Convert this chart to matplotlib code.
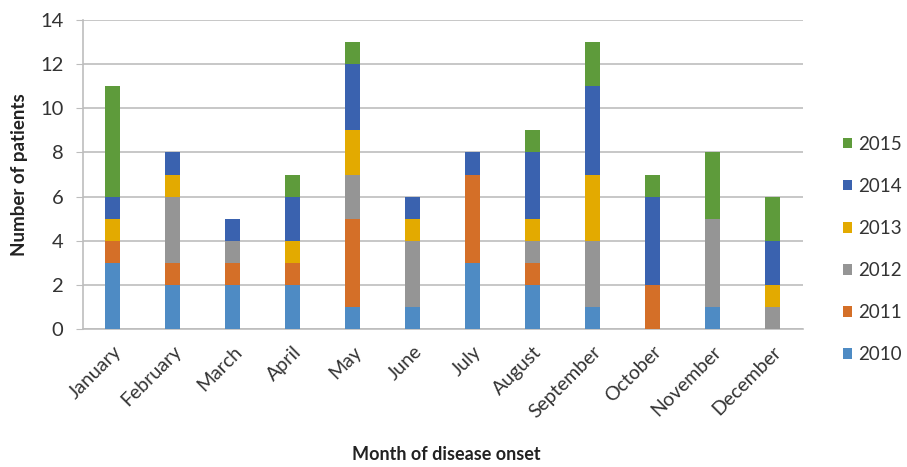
import matplotlib
matplotlib.use("Agg")
import matplotlib.pyplot as plt
from matplotlib.patches import Patch
import numpy as np

plt.rcParams['font.family'] = ['Lato', 'DejaVu Sans']

months = ["January", "February", "March", "April", "May", "June", "July",
          "August", "September", "October", "November", "December"]
years = ["2010", "2011", "2012", "2013", "2014", "2015"]

cases_2010 = [3, 2, 2, 2, 1, 1, 3, 2, 1, 0, 1, 0]
cases_2011 = [1, 1, 1, 1, 4, 0, 4, 1, 0, 2, 0, 0]
cases_2012 = [0, 3, 1, 0, 2, 3, 0, 1, 3, 0, 4, 1]
cases_2013 = [1, 1, 0, 1, 2, 1, 0, 1, 3, 0, 0, 1]
cases_2014 = [1, 1, 1, 2, 3, 1, 1, 3, 4, 4, 0, 2]
cases_2015 = [5, 0, 0, 1, 1, 0, 0, 1, 2, 1, 3, 2]

series = [cases_2010, cases_2011, cases_2012, cases_2013, cases_2014, cases_2015]
colors = ["#4E8BC4", "#D46F28", "#959595", "#E3AA00", "#3A62AF", "#5E9B3B"]

fig = plt.figure(figsize=(9.07, 4.67), dpi=100)
ax = fig.add_axes([0.0915, 0.2955, 0.7935, 0.6615])

x = np.arange(len(months))
bottom = np.zeros(len(months))
for vals, col in zip(series, colors):
    ax.bar(x, vals, bottom=bottom, width=0.25, color=col, zorder=3)
    bottom += np.array(vals)

ax.set_xlim(-0.5, len(months) - 0.5)
ax.set_ylim(0, 14)
ax.set_yticks(range(0, 15, 2))
ax.yaxis.grid(True, color="#BDBDBD", linewidth=1.2, zorder=0)
ax.set_axisbelow(True)

for side in ["top", "right"]:
    ax.spines[side].set_visible(False)
ax.spines["left"].set_color("#BDBDBD")
ax.spines["bottom"].set_color("#BDBDBD")
ax.spines["left"].set_linewidth(1.2)
ax.spines["bottom"].set_linewidth(1.2)

ax.tick_params(axis="y", length=5, color="#BDBDBD", labelsize=14.5,
               labelcolor="#333333", pad=9)
ax.tick_params(axis="x", length=0, labelsize=14, labelcolor="#333333", pad=10)
ax.set_xticks(x)
ax.set_xticklabels(months, rotation=45, ha="right", rotation_mode="anchor")

ax.set_ylabel("Number of patients", fontsize=13.5, fontweight="bold",
              color="#222222", labelpad=9)
fig.text(0.492, 0.008, "Month of disease onset", ha="center", va="bottom",
         fontsize=13, fontweight="bold", color="#222222")

handles = [Patch(facecolor=c, edgecolor="none") for c in colors][::-1]
labels = years[::-1]
fig.legend(handles, labels, loc="center left", bbox_to_anchor=(0.929, 0.466),
           frameon=False, fontsize=13.5, handlelength=0.5, handleheight=0.5,
           handletextpad=0.35, labelspacing=1.34, labelcolor="#333333",
           borderpad=0, borderaxespad=0)

fig.savefig("out.png", dpi=100)
